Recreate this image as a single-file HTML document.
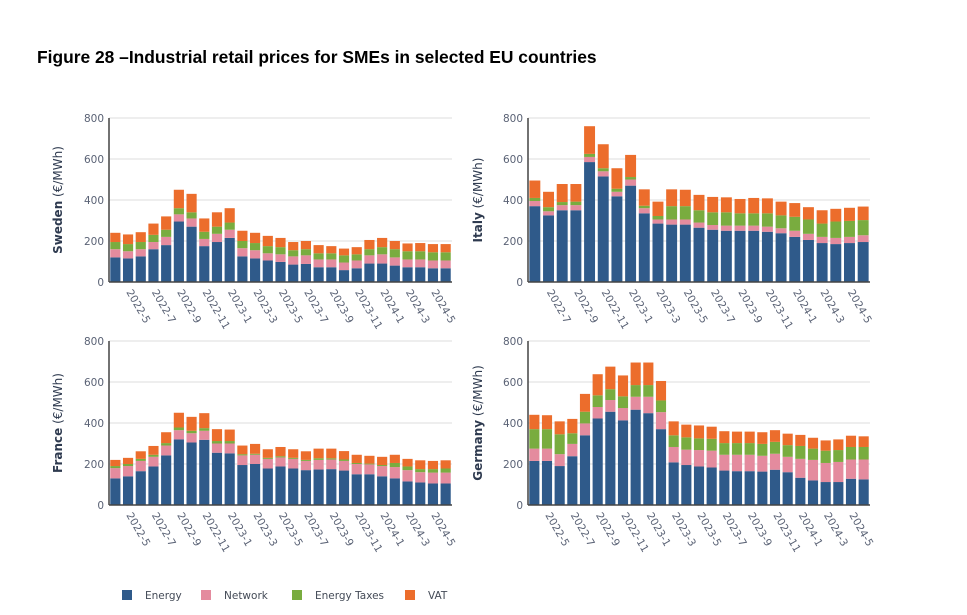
<!DOCTYPE html>
<html><head><meta charset="utf-8">
<style>
body{margin:0;background:#fff;width:967px;height:615px;overflow:hidden;font-family:"DejaVu Sans","Liberation Sans",sans-serif}
svg{position:absolute;left:0;top:0}
</style></head>
<body>
<svg id="c" width="967" height="615">
<text x="37" y="63" font-size="17.4" font-weight="bold" fill="#000" font-family="Liberation Sans, sans-serif">Figure 28 –Industrial retail prices for SMEs in selected EU countries</text>
</svg>
<script>
// Cumulative tops: energy, +network, +taxes, +VAT (€/MWh)
const months27 = ["2022-4","2022-5","2022-6","2022-7","2022-8","2022-9","2022-10","2022-11","2022-12","2023-1","2023-2","2023-3","2023-4","2023-5","2023-6","2023-7","2023-8","2023-9","2023-10","2023-11","2023-12","2024-1","2024-2","2024-3","2024-4","2024-5","2024-6"];
const months25 = months27.slice(2);
const yTicks = [0,200,400,600,800];
const seriesNames = ["Energy","Network","Energy Taxes","VAT"];
const seriesColors = ["#2f5a8a","#e48b9e","#79ac3f","#ec6d2c"];

const swedenEnergy=[120,115,125,160,180,295,270,175,195,215,125,115,105,98,85,88,72,72,58,67,90,90,80,72,72,67,67];
const swedenNetwork=[40,35,35,35,40,35,40,35,40,40,40,40,35,37,40,42,38,38,37,38,40,45,40,38,38,38,38];
const swedenTaxes=[35,35,35,35,35,30,30,35,35,35,35,35,35,35,30,30,30,30,35,30,30,35,40,40,40,40,40];
const swedenVat=[45,47,48,55,65,90,90,65,70,70,50,50,50,45,40,40,40,35,33,35,45,45,40,38,40,40,40];

const italyEnergy=[370,325,350,350,585,515,418,470,335,285,280,280,265,255,250,250,250,245,238,220,205,190,185,190,195];
const italyNetwork=[25,20,25,25,25,25,22,30,25,20,25,25,25,23,25,25,25,25,24,30,30,30,30,30,33];
const italyTaxes=[15,20,15,17,15,15,15,12,12,17,65,65,60,62,65,60,60,65,63,68,70,65,80,78,74];
const italyVat=[85,75,88,86,135,117,100,108,80,70,82,80,75,75,73,70,75,73,67,67,60,65,62,64,66];

const franceEnergy=[130,140,165,188,242,320,305,318,255,252,195,200,178,188,178,170,173,175,168,150,150,140,130,115,110,105,105];
const franceNetwork=[50,50,50,47,48,45,45,44,45,48,47,45,47,44,47,45,47,47,47,50,48,50,55,55,50,53,53];
const franceTaxes=[10,10,10,10,12,13,12,13,12,12,6,5,5,6,5,5,8,6,7,5,4,5,20,18,15,17,20];
const franceVat=[30,30,37,43,53,72,68,73,58,56,42,48,42,45,42,42,47,47,41,40,38,40,40,37,43,40,40];

const germanyEnergy=[215,215,190,238,340,422,455,413,465,448,370,208,195,188,183,168,165,165,163,172,160,133,120,112,112,128,125];
const germanyNetwork=[60,60,58,60,58,56,57,60,63,80,83,75,75,80,82,77,80,80,77,78,75,92,100,93,98,94,97];
const germanyTaxes=[95,95,97,52,57,57,53,57,57,57,57,57,60,57,58,57,57,57,58,58,57,63,55,60,58,61,61];
const germanyVat=[70,68,63,70,87,103,110,102,110,110,95,68,62,63,59,58,56,56,57,57,56,54,53,50,52,55,52];

const NS="http://www.w3.org/2000/svg";
const svg=document.getElementById('c');
function el(tag,attrs,parent){const e=document.createElementNS(NS,tag);for(const k in attrs)e.setAttribute(k,attrs[k]);(parent||svg).appendChild(e);return e;}

function panel(key,country,cats,series,x0,x1,yTop,yBot,titleX){
  const g=el('g',{});
  
  
  const yScale=v=>yBot-(v/800)*(yBot-yTop);
  const step=(x1-x0)/cats.length;
  const xScale=i=>x0+step*(i+0.5);
  const bw=step*0.8;
  yTicks.forEach(t=>{
    if(t>0){const gl=el('line',{x1:x0,x2:x1,y1:yScale(t),y2:yScale(t),stroke:'#dcdcdc','stroke-width':1},g);
      }
    const tl=el('text',{x:x0-5,y:yScale(t)+4,'text-anchor':'end','font-size':10.5,fill:'#5a6275'},g);
    tl.textContent=t;
    
    
  });
  cats.forEach((c,i)=>{
    let cum=0;
    series.forEach((arr,s)=>{
      const v=arr[i];
      const r=el('rect',{x:xScale(i)-bw/2,y:yScale(cum+v),width:bw,height:Math.max(0,yScale(cum)-yScale(cum+v)),fill:seriesColors[s]},g);
      
      
      cum+=v;
    });
    if(i%2===1){
      const xl=el('text',{x:0,y:0,'font-size':10.5,fill:'#5a6275',transform:`translate(${xScale(i)-2},${yBot+10}) rotate(60)`},g);
      xl.textContent=c;
      
      
    }
  });
  const ax=el('line',{x1:x0,x2:x0,y1:yTop,y2:yBot,stroke:'#444','stroke-width':1.5},g);
  
  const bx=el('line',{x1:x0,x2:x1,y1:yBot,y2:yBot,stroke:'#444','stroke-width':1.5},g);
  
  const cy=(yTop+yBot)/2;
  const yt=el('text',{x:0,y:0,'text-anchor':'middle','font-size':12,fill:'#2e3a4f',transform:`translate(${titleX},${cy}) rotate(-90)`},g);
  
  
  const b=el('tspan',{'font-weight':'bold'},yt);b.textContent=country;
  const n=el('tspan',{},yt);n.textContent=' (€/MWh)';
}

panel('sweden','Sweden',months27,[swedenEnergy,swedenNetwork,swedenTaxes,swedenVat],109,452,118,282,62);
panel('italy','Italy',months25,[italyEnergy,italyNetwork,italyTaxes,italyVat],528,870,118,282,482);
panel('france','France',months27,[franceEnergy,franceNetwork,franceTaxes,franceVat],109,452,341,505,62);
panel('germany','Germany',months27,[germanyEnergy,germanyNetwork,germanyTaxes,germanyVat],528,870,341,505,482);

const legX=[122,201,292,405];
seriesNames.forEach((s,i)=>{
  const g=el('g',{});
  
  
  el('rect',{x:legX[i],y:590,width:10,height:10,fill:seriesColors[i]},g);
  const t=el('text',{x:legX[i]+23,y:599,'font-size':10.5,fill:'#444b57'},g);
  t.textContent=s;
});
</script>
</body></html>
